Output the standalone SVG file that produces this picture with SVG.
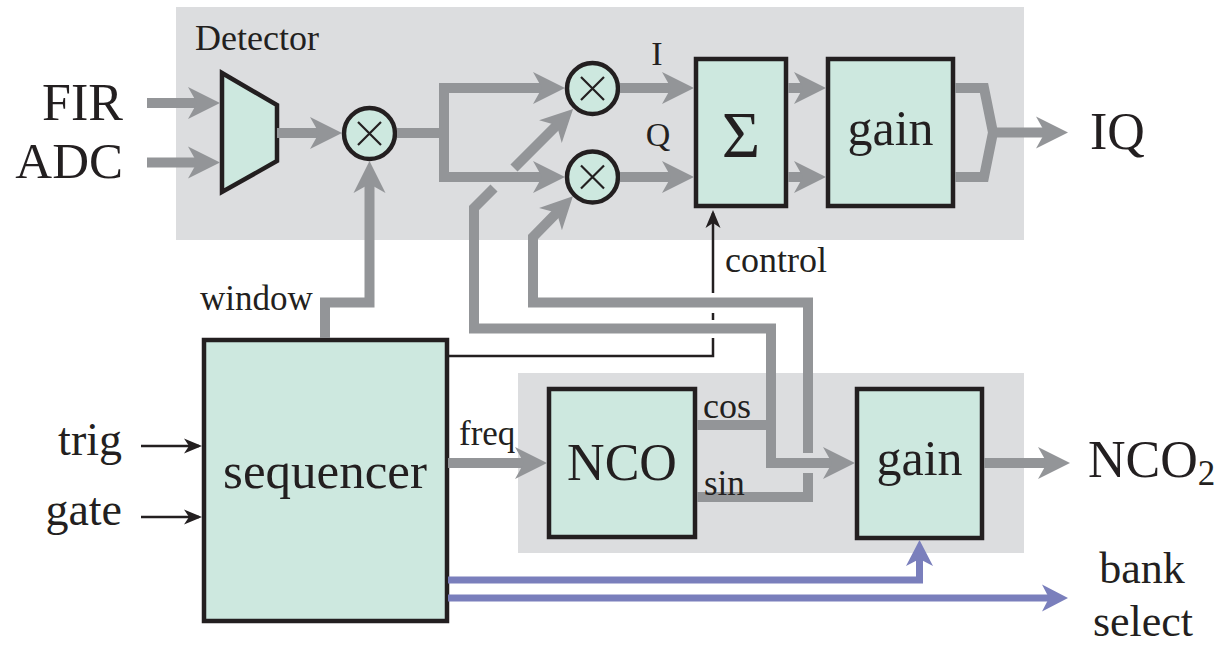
<svg xmlns="http://www.w3.org/2000/svg" width="1230" height="646" viewBox="0 0 1230 646">
<style>
text{font-family:"Liberation Serif","Times New Roman",serif;fill:#231f20}
.panel{fill:#dcdddf}
.blk{fill:#cde8df;stroke:#231f20;stroke-width:4.5}
.g{fill:none;stroke:#939598;stroke-width:10}
.ga{fill:none;stroke:#939598;stroke-width:10;marker-end:url(#ag)}
.t{fill:none;stroke:#231f20;stroke-width:2.5}
.ta{fill:none;stroke:#231f20;stroke-width:2.5;marker-end:url(#at)}
.ba{fill:none;stroke:#7a7fbc;stroke-width:7;marker-end:url(#ab)}
.x{stroke:#231f20;stroke-width:2.2}
</style>
<defs>
<marker id="ag" markerUnits="userSpaceOnUse" viewBox="-12 -18 36 36" markerWidth="36" markerHeight="36" refX="0" refY="0" orient="auto" overflow="visible">
<path d="M22,0 L-10,-16 L-1,0 L-10,16 Z" fill="#939598"/>
</marker>
<marker id="at" markerUnits="userSpaceOnUse" viewBox="-16 -8 20 16" markerWidth="20" markerHeight="16" refX="0" refY="0" orient="auto" overflow="visible">
<path d="M3,0 L-15,-7.5 L-10,0 L-15,7.5 Z" fill="#231f20"/>
</marker>
<marker id="ab" markerUnits="userSpaceOnUse" viewBox="-10 -15 30 30" markerWidth="30" markerHeight="30" refX="0" refY="0" orient="auto" overflow="visible">
<path d="M18,0 L-8,-13.5 L-1,0 L-8,13.5 Z" fill="#7a7fbc"/>
</marker>
</defs>

<g id="detector-panel">
<rect class="panel" x="176" y="7" width="848" height="233"/>
<text x="195" y="50" font-size="36">Detector</text>
</g>
<g id="nco-panel">
<rect class="panel" x="518" y="373" width="506" height="180"/>
</g>

<g id="mux"><path class="blk" d="M222,73 L277,105 L277,161 L222,192 Z"/></g>
<g id="mult-window"><circle class="blk" cx="369.5" cy="133.5" r="25.5"/><path class="x" d="M358,122 L381,145 M381,122 L358,145"/></g>
<g id="mult-i"><circle class="blk" cx="592.5" cy="88.5" r="25.5"/><path class="x" d="M581,77 L604,100 M604,77 L581,100"/></g>
<g id="mult-q"><circle class="blk" cx="592.5" cy="177" r="25.5"/><path class="x" d="M581,165.5 L604,188.5 M604,165.5 L581,188.5"/></g>
<g id="sum"><rect class="blk" x="696" y="59" width="90" height="147"/><text x="741" y="157" font-size="66" text-anchor="middle">Σ</text></g>
<g id="gain-iq"><rect class="blk" x="828" y="59" width="125" height="147"/><text x="890.5" y="145" font-size="50" text-anchor="middle">gain</text></g>
<g id="sequencer"><rect class="blk" x="204" y="340" width="243" height="281"/><text x="325" y="488" font-size="51" text-anchor="middle">sequencer</text></g>
<g id="nco"><rect class="blk" x="549" y="389" width="146" height="148"/><text x="622" y="480" font-size="52" text-anchor="middle">NCO</text></g>
<g id="gain-nco"><rect class="blk" x="857" y="389" width="125" height="149"/><text x="919.5" y="475" font-size="50" text-anchor="middle">gain</text></g>

<g id="connectors">
<path class="ga" d="M147,103 H198"/>
<path class="ga" d="M147,162.5 H198"/>
<path class="ga" d="M277,133 H320"/>
<path class="ga" d="M325,338 V302.5 H369.5 V183"/>
<path class="g" d="M397,133 H444"/>
<path class="ga" d="M444,133 V88 H543"/>
<path class="ga" d="M444,133 V177 H543"/>
<path class="ga" d="M620,88 H672"/>
<path class="ga" d="M620,177 H672"/>
<path class="ga" d="M788,88 H804"/>
<path class="ga" d="M788,177 H804"/>
<path class="g" d="M955,88 H984 L993,132.5 L984,177 H955"/>
<path class="ga" d="M993,132.5 H1046"/>
<path class="g" d="M697,425 H771 V328.5 H474 V208 L494,188"/>
<path class="ga" d="M514,168 L557.5,124.5"/>
<path class="ga" d="M771,425 V463 H833"/>
<path class="g" d="M697,497 H808 V473"/>
<path class="ga" d="M808,453 V302.5 H533 V237 L557.5,212"/>
<path class="ga" d="M448,463 H525"/>
<path class="ga" d="M984,463 H1048"/>
<path class="t" d="M448,356 H713 V338 M713,320 V313"/>
<path class="ta" d="M713,293 V213"/>
<path class="ta" d="M141,446 H199"/>
<path class="ta" d="M141,517 H199"/>
<path class="ba" d="M448,580 H919.5 V558"/>
<path class="ba" d="M448,598 H1050"/>
</g>

<g id="labels">
<text x="123" y="120" font-size="52" text-anchor="end">FIR</text>
<text x="123" y="178" font-size="51" text-anchor="end">ADC</text>
<text x="1090" y="149" font-size="52">IQ</text>
<text x="657" y="65" font-size="34" text-anchor="middle">I</text>
<text x="658" y="146" font-size="34" text-anchor="middle">Q</text>
<text x="725" y="272" font-size="36">control</text>
<text x="200" y="310" font-size="35">window</text>
<text x="122" y="455" font-size="46" text-anchor="end">trig</text>
<text x="122" y="525" font-size="46" text-anchor="end">gate</text>
<text x="459" y="445" font-size="35">freq</text>
<text x="703" y="418" font-size="36">cos</text>
<text x="704" y="495" font-size="35">sin</text>
<text x="1088" y="477" font-size="52">NCO<tspan font-size="35" dy="8">2</tspan></text>
<text x="1142" y="583" font-size="44" text-anchor="middle">bank</text>
<text x="1143" y="636" font-size="44" text-anchor="middle">select</text>
</g>
</svg>
